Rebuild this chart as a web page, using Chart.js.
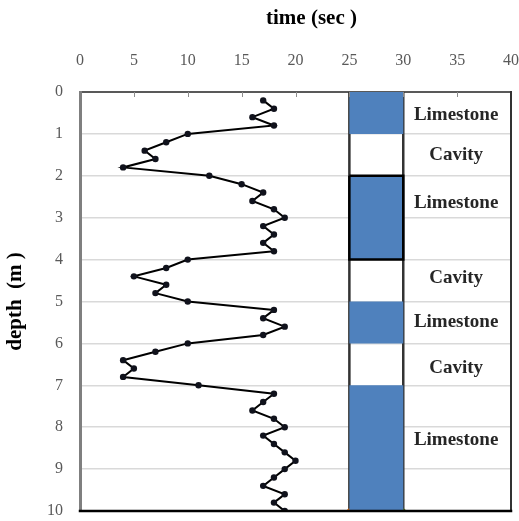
<!DOCTYPE html>
<html>
<head>
<meta charset="utf-8">
<script src="https://cdn.jsdelivr.net/npm/chart.js@4.4.0/dist/chart.umd.min.js"></script>
<style>
  html, body { margin: 0; padding: 0; background: #fff; }
  #wrap { width: 519px; height: 521px; }
</style>
</head>
<body>
<div id="wrap"><canvas id="logChart"></canvas></div>
<script>
// depth (m) of each reading and the travel time (sec) read at it
const depth = [0.2, 0.4, 0.6, 0.8, 1.0, 1.2, 1.4, 1.6, 1.8, 2.0,
               2.2, 2.4, 2.6, 2.8, 3.0, 3.2, 3.4, 3.6, 3.8, 4.0,
               4.2, 4.4, 4.6, 4.8, 5.0, 5.2, 5.4, 5.6, 5.8, 6.0,
               6.2, 6.4, 6.6, 6.8, 7.0, 7.2, 7.4, 7.6, 7.8, 8.0,
               8.2, 8.4, 8.6, 8.8, 9.0, 9.2, 9.4, 9.6, 9.8, 10.0];
const time = [17, 18, 16, 18, 10, 8, 6, 7, 4, 12,
              15, 17, 16, 18, 19, 17, 18, 17, 18, 10,
              8, 5, 8, 7, 10, 18, 17, 19, 17, 10,
              7, 4, 5, 4, 11, 18, 17, 16, 18, 19,
              17, 18, 19, 20, 19, 18, 17, 19, 18, 19];

// rock column
const layerTop = [0, 1, 2, 4, 5, 6, 7];
const layerBottom = [1, 2, 4, 5, 6, 7, 10];
const layerName = ['Limestone', 'Cavity', 'Limestone', 'Cavity', 'Limestone', 'Cavity', 'Limestone'];
const labelDepth = [0.55, 1.5, 2.65, 4.45, 5.5, 6.6, 8.3];
const columnLeft = 25;
const columnRight = 30;

const timeMin = 0, timeMax = 40, timeStep = 5;
const depthMin = 0, depthMax = 10, depthStep = 1;

const serif = "'Liberation Serif', 'Times New Roman', serif";
const outlinedLayer = 2;

const datasets = [];
datasets.push({
    data: depth.map((d, i) => ({ x: time[i], y: d })),
    borderColor: '#000',
    borderWidth: 2,
    pointRadius: 3.2,
    pointBackgroundColor: '#10121c',
    pointBorderWidth: 0,
    tension: 0,
    order: 0
});

layerName.forEach((name, i) => {
    if (name !== 'Limestone') return;
    const a = layerTop[i], b = layerBottom[i];
    datasets.push({
        data: [{ x: columnLeft, y: a }, { x: columnRight, y: a }, { x: columnRight, y: b },
               { x: columnLeft, y: b }, { x: columnLeft, y: a }],
        fill: 'shape',
        backgroundColor: '#4f81bd',
        borderColor: i === outlinedLayer ? '#000' : 'rgba(0,0,0,0)',
        borderWidth: i === outlinedLayer ? 2.5 : 1,
        pointRadius: 0,
        order: 1
    });
});

// side lines of the column
[columnLeft, columnRight].forEach((x, k) => {
    datasets.push({
        data: [{ x: x, y: depthMin }, { x: x, y: depthMax }],
        borderColor: '#333',
        borderWidth: 2.5,
        pointRadius: [0, 2.5],
        pointBackgroundColor: k === 0 ? '#e46c0a' : '#4e6b1f',
        pointBorderWidth: 0,
        order: 2
    });
});

const extras = {
    id: 'extras',
    afterDatasetsDraw(chart) {
        const ctx = chart.ctx;
        const area = chart.chartArea;
        ctx.save();
        // right and bottom frame
        ctx.lineCap = 'square';
        ctx.strokeStyle = '#333';
        ctx.lineWidth = 2;
        ctx.beginPath();
        ctx.moveTo(area.right, area.top);
        ctx.lineTo(area.right, area.bottom);
        ctx.stroke();
        ctx.strokeStyle = '#000';
        ctx.lineWidth = 2.5;
        ctx.beginPath();
        ctx.moveTo(area.left, area.bottom);
        ctx.lineTo(area.right, area.bottom);
        ctx.stroke();
        ctx.restore();
    },
    afterDraw(chart) {
        const ctx = chart.ctx;
        const area = chart.chartArea;
        const xs = chart.scales.x, ys = chart.scales.y;
        ctx.save();
        // small inward tick marks on the top axis
        ctx.strokeStyle = '#8c8c8c';
        ctx.lineWidth = 1;
        xs.ticks.forEach(t => {
            if (t.value <= timeMin || t.value >= timeMax) return;
            const px = Math.round(xs.getPixelForValue(t.value)) + 0.5;
            ctx.beginPath();
            ctx.moveTo(px, area.top);
            ctx.lineTo(px, area.top + 5);
            ctx.stroke();
        });
        // layer names
        const cx = (xs.getPixelForValue(columnRight) + area.right) / 2;
        ctx.fillStyle = '#262626';
        ctx.font = 'bold 19px ' + serif;
        ctx.textAlign = 'center';
        ctx.textBaseline = 'middle';
        layerName.forEach((name, i) => {
            ctx.fillText(name, cx - 1, ys.getPixelForValue(labelDepth[i]));
        });
        // top axis title
        ctx.fillStyle = '#000';
        ctx.font = 'bold 21px ' + serif;
        ctx.fillText('time (sec )', (area.left + area.right) / 2 + 16, 19);
        ctx.restore();
    }
};

new Chart(document.getElementById('logChart'), {
    type: 'line',
    data: { datasets: datasets },
    plugins: [extras],
    options: {
        responsive: true,
        maintainAspectRatio: false,
        animation: false,
        layout: { padding: { left: 0, top: 0, right: 7, bottom: 10 } },
        plugins: { legend: { display: false }, tooltip: { enabled: false } },
        scales: {
            x: {
                type: 'linear',
                position: 'top',
                min: timeMin,
                max: timeMax,
                afterFit(scale) { scale.height = 92; },
                ticks: { stepSize: timeStep, padding: 0, color: '#595959', font: { family: serif, size: 16 } },
                grid: { display: true, drawOnChartArea: false, drawTicks: true, tickLength: 22,
                        tickColor: 'rgba(0,0,0,0)' },
                border: { display: true, color: '#595959', width: 2 }
            },
            y: {
                type: 'linear',
                reverse: true,
                min: depthMin,
                max: depthMax,
                afterFit(scale) { scale.width = 80; },
                ticks: { stepSize: depthStep, padding: 0, color: '#595959', font: { family: serif, size: 16 } },
                grid: { color: '#d9d9d9', lineWidth: 1.5, drawTicks: true, tickLength: 17,
                        tickColor: 'rgba(0,0,0,0)' },
                border: { display: true, color: '#7f7f7f', width: 3 },
                title: { display: true, text: 'depth  (m )', color: '#000', padding: 3,
                         font: { family: serif, size: 21, weight: 'bold' } }
            }
        }
    }
});
</script>
</body>
</html>
